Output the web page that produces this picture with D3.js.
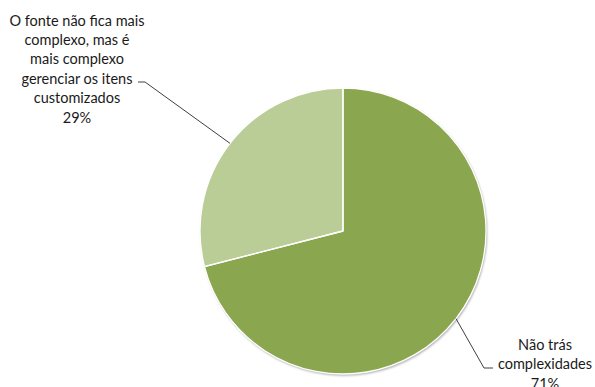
<!DOCTYPE html>
<html>
<head>
<meta charset="utf-8">
<script src="https://cdn.jsdelivr.net/npm/d3@7"></script>
<style>
  html, body { margin: 0; padding: 0; background: #fff; }
  svg { display: block; }
  text { font-family: Lato, "Open Sans", sans-serif; fill: #1a1a1a; }
</style>
</head>
<body>
<svg id="chart" width="595" height="387"></svg>
<script>
// Survey answers and their shares (percent)
const categories = [
  "Não trás complexidades",
  "O fonte não fica mais complexo, mas é mais complexo gerenciar os itens customizados"
];
const values = [71, 29];
const labelLines = [
  ["Não trás", "complexidades", "71%"],
  ["O fonte não fica mais", "complexo, mas é", "mais complexo", "gerenciar os itens", "customizados", "29%"]
];
const colors = ["#8aa64f", "#bacd97"];

const W = 595, H = 387;
const cx = 343, cy = 231, R = 143;

const svg = d3.select("#chart");

const defs = svg.append("defs");
const f = defs.append("filter").attr("id", "shadow")
  .attr("x", "-10%").attr("y", "-10%").attr("width", "120%").attr("height", "120%");
f.append("feDropShadow").attr("dx", 1).attr("dy", 1.5).attr("stdDeviation", 1.2)
  .attr("flood-color", "#000").attr("flood-opacity", 0.35);

const pie = d3.pie().sort(null).value(d => d)(values);
const arc = d3.arc().innerRadius(0).outerRadius(R);

const g = svg.append("g").attr("transform", `translate(${cx},${cy})`);

g.append("g").attr("filter", "url(#shadow)")
  .selectAll("path").data(pie).join("path")
  .attr("d", arc)
  .attr("fill", (d, i) => colors[i]);

g.selectAll("path.sep").data(pie).join("path")
  .attr("class", "sep")
  .attr("d", arc)
  .attr("fill", "none")
  .attr("stroke", "#fff")
  .attr("stroke-width", 1.3)
  .attr("stroke-linejoin", "round");

// label blocks: anchor of text block and leader-line elbow
const labelLayout = [
  { x: 545, y0: 350, elbow: [484, 368], end: [493, 368] },
  { x: 77, y0: 25.5, elbow: [145, 82], end: [138, 82] }
];
const lineH = 19.4;

pie.forEach((d, i) => {
  const mid = (d.startAngle + d.endAngle) / 2;
  const px = cx + Math.sin(mid) * R;
  const py = cy - Math.cos(mid) * R;
  const L = labelLayout[i];
  svg.append("polyline")
    .attr("points", [[px, py], L.elbow, L.end].map(p => p.join(",")).join(" "))
    .attr("fill", "none")
    .attr("stroke", "#404040")
    .attr("stroke-width", 1);
  const t = svg.append("text")
    .attr("text-anchor", "middle")
    .attr("font-size", 14.5);
  labelLines[i].forEach((ln, k) => {
    t.append("tspan").attr("x", L.x).attr("y", L.y0 + k * lineH).text(ln);
  });
});
</script>
</body>
</html>
